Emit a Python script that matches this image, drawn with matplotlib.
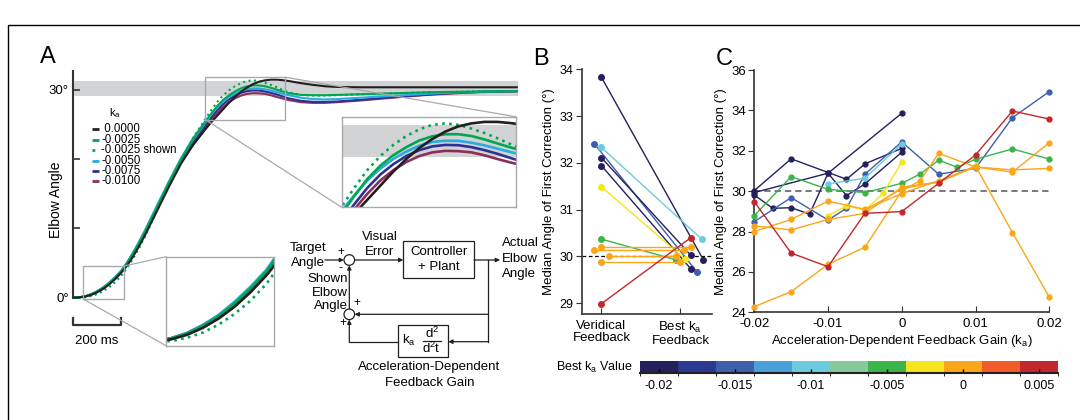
import matplotlib
matplotlib.use("Agg")
import matplotlib.pyplot as plt
from matplotlib.colors import ListedColormap, BoundaryNorm
from matplotlib.cm import ScalarMappable
from matplotlib.patches import Rectangle, Circle, ConnectionPatch
from matplotlib.lines import Line2D

plt.rcParams['font.family'] = ['Liberation Sans', 'DejaVu Sans']
plt.rcParams['mathtext.default'] = 'regular'
plt.rcParams['axes.unicode_minus'] = False

W, H = 1080, 420

# ----- Panel A: simulated elbow angle traces (deg) -----
t_ms = [0, 25, 50, 75, 100, 125, 150, 175, 200, 225, 250, 275, 300,
        350, 400, 450, 500,
        550, 575, 600, 625, 650, 675, 700, 725, 750, 775, 800, 825, 850, 875, 900,
        950, 1000, 1050, 1100,
        1200, 1300, 1400, 1500, 1600, 1700, 1850]
ang_k0000 = [0.0, 0.03, 0.14, 0.38, 0.75, 1.25, 1.88, 2.65, 3.55, 4.6, 5.9, 7.4, 9.0,
             12.5, 16.0, 19.3, 22.0,
             24.2, 25.25, 26.2, 27.15, 28.1, 28.95, 29.7, 30.3, 30.8, 31.15, 31.35, 31.45, 31.45, 31.37, 31.25,
             30.95, 30.7, 30.5, 30.4,
             30.35, 30.35, 30.35, 30.35, 30.35, 30.35, 30.35]
ang_k0025 = [0.0, 0.04, 0.18, 0.45, 0.85, 1.38, 2.05, 2.85, 3.75, 4.95, 6.35, 7.85, 9.5,
             13.0, 16.6, 19.9, 22.8,
             25.2, 26.45, 27.6, 28.5, 29.2, 29.75, 30.2, 30.48, 30.62, 30.62, 30.5, 30.27, 30.0, 29.73, 29.5,
             29.25, 29.2, 29.2, 29.25,
             29.35, 29.45, 29.55, 29.65, 29.7, 29.75, 29.8]
ang_k0025_shown = [0.0, 0.0, 0.05, 0.22, 0.5, 0.93, 1.5, 2.2, 3.1, 4.25, 5.6, 7.1, 8.8,
                   12.5, 16.3, 19.9, 23.0,
                   25.7, 27.0, 28.2, 29.15, 29.9, 30.5, 30.95, 31.25, 31.35, 31.25, 31.0, 30.7, 30.35, 29.95, 29.6,
                   29.25, 29.15, 29.15, 29.2,
                   29.35, 29.45, 29.55, 29.65, 29.7, 29.75, 29.8]
ang_k0050 = [0.0, 0.04, 0.2, 0.48, 0.9, 1.45, 2.15, 2.95, 3.85, 5.05, 6.5, 8.05, 9.7,
             13.3, 16.8, 20.1, 23.0,
             25.4, 26.5, 27.5, 28.3, 28.95, 29.45, 29.85, 30.1, 30.18, 30.17, 30.05, 29.87, 29.65, 29.42, 29.2,
             28.85, 28.65, 28.6, 28.65,
             28.85, 29.05, 29.25, 29.45, 29.6, 29.7, 29.8]
ang_k0075 = [0.0, 0.04, 0.2, 0.47, 0.9, 1.42, 2.1, 2.9, 3.8, 5.0, 6.4, 7.95, 9.6,
             13.1, 16.6, 19.8, 22.3,
             24.7, 25.9, 27.0, 27.9, 28.6, 29.15, 29.55, 29.8, 29.9, 29.88, 29.75, 29.55, 29.3, 29.02, 28.75,
             28.4, 28.25, 28.25, 28.3,
             28.55, 28.85, 29.1, 29.35, 29.55, 29.7, 29.8]
ang_k0100 = [0.0, 0.04, 0.18, 0.45, 0.85, 1.35, 2.0, 2.8, 3.7, 4.9, 6.25, 7.75, 9.4,
             12.9, 16.4, 19.6, 22.0,
             24.35, 25.55, 26.6, 27.5, 28.2, 28.75, 29.15, 29.4, 29.5, 29.48, 29.4, 29.2, 28.95, 28.72, 28.5,
             28.2, 28.1, 28.1, 28.2,
             28.45, 28.75, 29.05, 29.3, 29.5, 29.65, 29.75]

legend_labels = [" 0.0000", "-0.0025", "-0.0025 shown", "-0.0050", "-0.0075", "-0.0100"]
traces = [ang_k0000, ang_k0025, ang_k0025_shown, ang_k0050, ang_k0075, ang_k0100]
trace_colors = ["#231f20", "#00a651", "#00a651", "#29abe2", "#2e3192", "#8c2d5a"]
trace_styles = ["-", "-", ":", "-", "-", "-"]
draw_order = [5, 4, 3, 1, 2, 0]

target_band = (29.1, 31.25)
zoom_right = (551, 885, 25.7, 31.8)
zoom_left = (42, 212, -0.2, 4.55)

# ----- Best k_a colour scale -----
ka_bounds = [-0.02125, -0.01875, -0.01625, -0.01375, -0.01125, -0.00875,
             -0.00625, -0.00375, -0.00125, 0.00125, 0.00375, 0.00625]
ka_colors = ["#24205e", "#2b3990", "#3e5fab", "#4aa0d8", "#6ccbdc", "#86c99a",
             "#3bb44a", "#f4e51d", "#faa61a", "#f15a29", "#c1272d"]
cbar_ticks = [-0.02, -0.015, -0.01, -0.005, 0, 0.005]
cmap = ListedColormap(ka_colors)
norm = BoundaryNorm(ka_bounds, cmap.N)

# ----- Panel B: veridical vs best k_a -----
b_best_ka = [-0.02, -0.015, -0.01, -0.02, -0.02, -0.0025, -0.005, 0, 0, 0, 0, 0.005]
b_ver_x = [0, -0.09, 0, 0, 0, 0, 0, 0, -0.09, 0.097, 0, 0]
b_ver_y = [33.83, 32.41, 32.33, 32.11, 31.94, 31.49, 30.37, 30.20, 30.13, 30.01, 29.88, 28.99]
b_best_x = [1.29, 1.21, 1.27, 1.13, 1.13, 1.06, 0.94, 1.13, 1.04, 0.94, 1.0, 1.13]
b_best_y = [29.93, 29.67, 30.37, 30.03, 29.74, 29.94, 29.93, 30.20, 30.13, 30.01, 29.88, 30.40]

# ----- Panel C: angle vs k_a, one series per subject -----
c_series = [
    (-0.02, [-0.02, -0.01, 0], [29.93, 30.89, 33.86]),
    (-0.02, [-0.02, -0.015, -0.0075, -0.005, 0], [30.03, 31.6, 30.59, 31.35, 32.12]),
    (-0.02, [-0.02, -0.0175, -0.015, -0.0125, -0.01, -0.0075, -0.005, 0],
     [29.81, 29.15, 29.18, 28.86, 30.89, 29.78, 30.36, 31.93]),
    (-0.015, [-0.02, -0.015, -0.01, -0.0075, -0.005, 0, 0.005, 0.01, 0.015, 0.02],
     [28.49, 29.68, 28.57, 29.15, 30.84, 32.44, 30.84, 31.13, 33.64, 34.93]),
    (-0.01, [-0.01, -0.005, 0], [30.36, 30.64, 32.34]),
    (-0.005, [-0.02, -0.015, -0.01, -0.005, 0, 0.0025, 0.005, 0.0075, 0.01, 0.015, 0.02],
     [28.79, 30.72, 30.09, 29.93, 30.39, 30.85, 31.54, 31.18, 31.58, 32.09, 31.59]),
    (-0.0025, [-0.01, -0.0075, -0.005, -0.0025, 0], [28.79, 29.27, 29.05, 29.9, 31.46]),
    (0, [-0.02, -0.015, -0.01, -0.005, 0, 0.0025, 0.005, 0.01, 0.015, 0.02],
     [24.28, 25.02, 26.38, 27.22, 30.02, 30.52, 31.87, 31.2, 31.05, 31.13]),
    (0, [-0.02, -0.015, -0.01, -0.005, 0, 0.005, 0.01, 0.015, 0.02],
     [28.0, 28.6, 29.51, 29.1, 29.88, 30.52, 31.2, 30.94, 32.4]),
    (0, [-0.02, -0.015, -0.01, -0.005, 0, 0.005, 0.01, 0.015, 0.02],
     [28.28, 28.08, 28.6, 28.9, 30.2, 30.45, 31.25, 27.95, 24.75]),
    (0, [-0.005, 0, 0.005, 0.01], [29.05, 30.12, 30.45, 31.2]),
    (0.005, [-0.02, -0.015, -0.01, -0.005, 0, 0.005, 0.01, 0.015, 0.02],
     [29.48, 26.93, 26.26, 28.9, 28.99, 30.39, 31.79, 33.97, 33.57]),
]

spine_col = "#333333"
band_col = "#d1d3d4"
box_col = "#a7a9ac"

fig = plt.figure(figsize=(W / 100, H / 100), dpi=100)


def px_axes(x0, y0, x1, y1):
    return fig.add_axes([x0 / W, 1 - y1 / H, (x1 - x0) / W, (y1 - y0) / H])


# ================= Panel A =================
axA = px_axes(73, 71, 518, 329.5)
axA.set_xlim(0, 1855)
axA.set_ylim(-4.6, 32.7)
axA.axhspan(*target_band, color=band_col, lw=0, zorder=0)
for i in draw_order:
    axA.plot(t_ms, traces[i], color=trace_colors[i], ls=trace_styles[i], lw=1.5)
for s in ['top', 'right', 'bottom']:
    axA.spines[s].set_visible(False)
axA.spines['left'].set_bounds(0, 32.7)
axA.spines['left'].set_color(spine_col)
axA.spines['left'].set_linewidth(1.5)
axA.set_xticks([])
axA.set_yticks([0, 10, 20, 30])
axA.set_yticklabels(["0°", "", "", "30°"], fontsize=9.5)
axA.tick_params(axis='y', direction='in', length=5, width=1.2, color=spine_col, pad=3)
axA.set_ylabel("Elbow Angle", fontsize=10)
axA.yaxis.set_label_coords(-0.022, 0.5)
axA.patch.set_alpha(0)

# scale bar
scale_ms = 200
axA.plot([0, 0, scale_ms, scale_ms], [-3.0, -3.9, -3.9, -3.0], color=spine_col, lw=1.6, clip_on=False)
axA.text(scale_ms / 2, -6.2, "200 ms", ha='center', va='center', fontsize=9.5)

# zoom boxes
for (x0, x1, y0, y1) in [zoom_right, zoom_left]:
    axA.add_patch(Rectangle((x0, y0), x1 - x0, y1 - y0, fill=False, ec=box_col, lw=1, zorder=5))


def make_inset(rect, lims, lw):
    ax = px_axes(*rect)
    ax.axhspan(*target_band, color=band_col, lw=0, zorder=0)
    for i in draw_order:
        ax.plot(t_ms, traces[i], color=trace_colors[i], ls=trace_styles[i], lw=lw)
    ax.set_xlim(lims[0], lims[1])
    ax.set_ylim(lims[2], lims[3])
    ax.set_xticks([])
    ax.set_yticks([])
    for s in ax.spines.values():
        s.set_color(box_col)
        s.set_linewidth(1)
    return ax


insR = make_inset((341.7, 116.7, 515.7, 207.3), zoom_right, 1.9)
insL = make_inset((166, 256.7, 274, 345.7), zoom_left, 1.9)

for xyA, xyB, ins in [((zoom_right[1], zoom_right[3]), (1, 1), insR),
                      ((zoom_right[0], zoom_right[2]), (0, 0), insR),
                      ((zoom_left[1], zoom_left[3]), (0, 1), insL),
                      ((zoom_left[0], zoom_left[2]), (0, 0), insL)]:
    con = ConnectionPatch(xyA=xyA, coordsA='data', axesA=axA,
                          xyB=xyB, coordsB='axes fraction', axesB=ins,
                          color=box_col, lw=0.9)
    fig.add_artist(con)

# legend (k_a values)
fig.text(115 / W, 1 - 113 / H, "k$_a$", ha='center', va='center', fontsize=8)
for i, lab in enumerate(legend_labels):
    yy = 1 - (129.3 + 10.4 * i) / H
    fig.add_artist(Line2D([92 / W, 99 / W], [yy, yy], color=trace_colors[i],
                          ls=trace_styles[i], lw=2, solid_capstyle='butt'))
    fig.text(101 / W, yy, lab, ha='left', va='center', fontsize=8.3)

# ================= Panel B =================
axB = px_axes(581.7, 69.3, 712, 314)
axB.set_xlim(-0.25, 1.4)
axB.set_ylim(28.77, 34.0)
axB.axhline(30, color='k', ls=(0, (3, 2)), lw=0.9, zorder=1)
for k in range(len(b_ver_y)):
    c = cmap(norm(b_best_ka[k]))
    axB.plot([b_ver_x[k], b_best_x[k]], [b_ver_y[k], b_best_y[k]], color=c, lw=1.0,
             marker='o', ms=4, mec=c, mfc=c, zorder=3, clip_on=False)
for s in ['top', 'right']:
    axB.spines[s].set_visible(False)
for s in ['left', 'bottom']:
    axB.spines[s].set_color(spine_col)
    axB.spines[s].set_linewidth(1.2)
axB.set_yticks([29, 30, 31, 32, 33, 34])
axB.set_xticks([0, 1])
axB.set_xticklabels(["Veridical\nFeedback", "Best k$_a$\nFeedback"], fontsize=9.5, linespacing=1.0)
axB.tick_params(axis='y', direction='out', length=4, labelsize=9, color=spine_col, pad=2)
axB.tick_params(axis='x', direction='in', length=4, color=spine_col, pad=4)
axB.set_ylabel("Median Angle of First Correction (°)", fontsize=9.5, labelpad=3)

# ================= Panel C =================
axC = px_axes(754.3, 70, 1049.3, 312.3)
axC.set_xlim(-0.02, 0.02)
axC.set_ylim(24, 36)
axC.axhline(30, color='#6d6e71', ls=(0, (3.5, 2.2)), lw=1.3, zorder=1)
for best, kx, ky in c_series:
    c = cmap(norm(best))
    axC.plot(kx, ky, color=c, lw=1.0, marker='o', ms=3.5, mec=c, mfc=c, clip_on=False, zorder=3)
for s in ['top', 'right']:
    axC.spines[s].set_visible(False)
for s in ['left', 'bottom']:
    axC.spines[s].set_color(spine_col)
    axC.spines[s].set_linewidth(1.2)
axC.set_yticks([24, 26, 28, 30, 32, 34, 36])
axC.set_xticks([-0.02, -0.01, 0, 0.01, 0.02])
axC.set_xticklabels(["-0.02", "-0.01", "0", "0.01", "0.02"])
axC.tick_params(axis='y', direction='out', length=4, labelsize=9.5, color=spine_col, pad=2)
axC.tick_params(axis='x', direction='in', length=4, labelsize=9.5, color=spine_col, pad=4)
axC.set_ylabel("Median Angle of First Correction (°)", fontsize=9.5, labelpad=3)
axC.set_xlabel("Acceleration-Dependent Feedback Gain (k$_a$)", fontsize=9.5, labelpad=2)

# ================= Colour bar =================
cax = px_axes(640, 361, 1058, 373)
cb = fig.colorbar(ScalarMappable(norm=norm, cmap=cmap), cax=cax, orientation='horizontal',
                  ticks=cbar_ticks)
cb.outline.set_visible(False)
cb.set_ticklabels(["-0.02", "-0.015", "-0.01", "-0.005", "0", "0.005"])
cax.tick_params(direction='in', length=3, width=1, color='k', labelsize=9, pad=5)
cax.spines['bottom'].set_visible(True)
cax.spines['bottom'].set_color('#231f20')
cax.spines['bottom'].set_linewidth(1.5)
fig.text(633 / W, 1 - 367 / H, "Best k$_a$ Value", ha='right', va='center', fontsize=9)

# ================= Overlay: labels, diagram, frame =================
ov = fig.add_axes([0, 0, 1, 1], zorder=10)
ov.set_xlim(0, W)
ov.set_ylim(H, 0)
ov.axis('off')
ov.patch.set_alpha(0)

ov.text(48, 57, "A", fontsize=17, ha='center', va='center')
ov.text(541, 59, "B", fontsize=17, ha='center', va='center')
ov.text(724, 59, "C", fontsize=17, ha='center', va='center')

# frame
ov.plot([8, 8, W], [H, 25, 25], color='k', lw=1, solid_joinstyle='miter')

dk = dict(color='#231f20', lw=0.9)
arw = dict(arrowstyle='-|>', lw=0.9, color='#231f20', mutation_scale=6, shrinkA=0, shrinkB=0)
fs = 9.5


def arrow(x0, y0, x1, y1):
    ov.annotate('', xy=(x1, y1), xytext=(x0, y0), arrowprops=arw)


cx, cy1, cy2, r = 349.3, 260, 314.3, 5.3
ov.add_patch(Circle((cx, cy1), r, fill=False, ec='#231f20', lw=0.9))
ov.add_patch(Circle((cx, cy2), r, fill=False, ec='#231f20', lw=0.9))
ov.add_patch(Rectangle((403.3, 240.7), 70.7, 37.6, fill=False, ec='#231f20', lw=0.9))
ov.add_patch(Rectangle((397.7, 325), 50.6, 31.7, fill=False, ec='#231f20', lw=0.9))

arrow(325, cy1, cx - r, cy1)
arrow(cx + r, cy1, 403.3, cy1)
arrow(474, cy1, 500, cy1)
ov.plot([488.3, 488.3], [cy1, 341.7], **dk)
arrow(488.3, cy2, cx + r, cy2)
arrow(488.3, 341.7, 448.3, 341.7)
ov.plot([397.7, cx], [341.7, 341.7], **dk)
arrow(cx, 341.7, cx, cy2 + r)
arrow(cx, cy2 - r, cx, cy1 + r)

ov.text(438.7, 251.7, "Controller", ha='center', va='center', fontsize=fs)
ov.text(438.7, 266.7, "+ Plant", ha='center', va='center', fontsize=fs)
ov.text(308, 248, "Target", ha='center', va='center', fontsize=fs)
ov.text(308, 262.7, "Angle", ha='center', va='center', fontsize=fs)
ov.text(380, 237.3, "Visual", ha='center', va='center', fontsize=fs)
ov.text(380, 252.3, "Error", ha='center', va='center', fontsize=fs)
ov.text(502, 243.3, "Actual", ha='left', va='center', fontsize=fs)
ov.text(502, 258.7, "Elbow", ha='left', va='center', fontsize=fs)
ov.text(502, 274, "Angle", ha='left', va='center', fontsize=fs)
ov.text(347.5, 279.3, "Shown", ha='right', va='center', fontsize=fs)
ov.text(347.5, 292.7, "Elbow", ha='right', va='center', fontsize=fs)
ov.text(347.5, 306, "Angle", ha='right', va='center', fontsize=fs)
ov.text(340.7, 251.5, "+", ha='center', va='center', fontsize=8.5)
ov.text(340.7, 268.3, "-", ha='center', va='center', fontsize=9)
ov.text(357.3, 302.7, "+", ha='center', va='center', fontsize=8.5)
ov.text(342.7, 323.3, "+", ha='center', va='center', fontsize=8.5)
ov.text(409, 340.5, "k$_a$", ha='center', va='center', fontsize=fs)
ov.text(431.7, 333.3, "d$^2$", ha='center', va='center', fontsize=fs)
ov.plot([422.5, 441], [341.2, 341.2], **dk)
ov.text(431.7, 348.8, "d$^2$t", ha='center', va='center', fontsize=fs)
ov.text(429.3, 366.7, "Acceleration-Dependent", ha='center', va='center', fontsize=fs)
ov.text(429.3, 383.3, "Feedback Gain", ha='center', va='center', fontsize=fs)

fig.savefig("out.png", dpi=100)
